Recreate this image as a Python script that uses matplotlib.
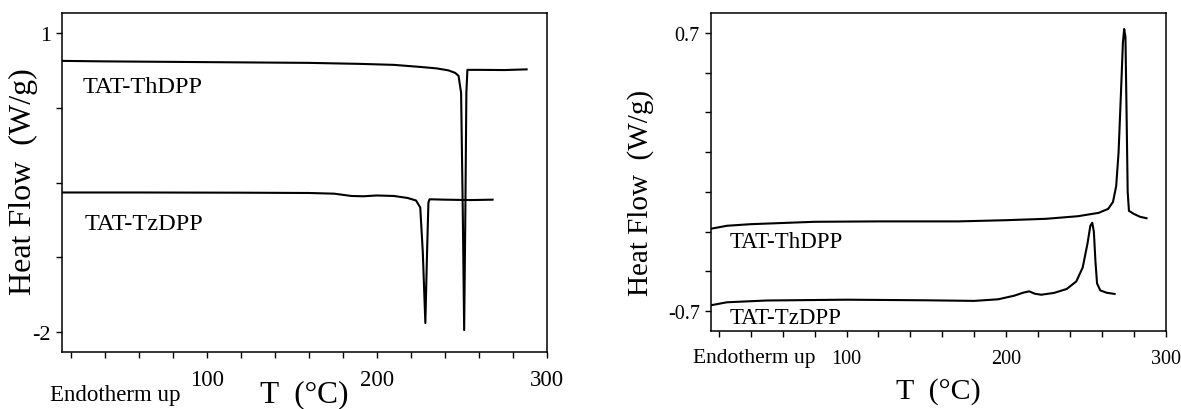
import matplotlib
matplotlib.use('Agg')
import matplotlib.pyplot as plt
from matplotlib.ticker import FixedLocator, FuncFormatter

plt.rcParams['font.family'] = ['Liberation Serif', 'DejaVu Serif']

# DSC heating scans (left panel), Heat Flow in W/g vs T in deg C
heat_th_T = [15, 40, 80, 120, 160, 190, 210, 225, 235, 242, 246, 248, 249.5,
             250.5, 251.3, 252.0, 252.6, 253.2, 260, 275, 288]
heat_th_q = [0.72, 0.715, 0.71, 0.705, 0.70, 0.69, 0.68, 0.66, 0.645, 0.625,
             0.60, 0.57, 0.40, -0.8, -1.98, -0.8, 0.40, 0.63, 0.63, 0.628, 0.635]

heat_tz_T = [15, 60, 120, 160, 175, 185, 192, 200, 210, 218, 223, 225.5, 227,
             228.5, 229.5, 230.3, 231, 240, 255, 268]
heat_tz_q = [-0.60, -0.60, -0.602, -0.605, -0.612, -0.635, -0.638, -0.63, -0.635,
             -0.655, -0.68, -0.75, -1.2, -1.91, -1.2, -0.70, -0.668, -0.672,
             -0.676, -0.672]

# DSC cooling scans (right panel)
cool_th_T = [15, 25, 40, 80, 120, 170, 200, 225, 245, 258, 264, 267, 269, 270.5,
             272, 273.2, 274, 274.8, 275.5, 276.2, 277, 280, 284, 288]
cool_th_q = [-0.285, -0.27, -0.262, -0.25, -0.248, -0.248, -0.242, -0.235, -0.222,
             -0.205, -0.185, -0.15, -0.07, 0.10, 0.40, 0.65, 0.72, 0.68, 0.30,
             -0.10, -0.195, -0.21, -0.225, -0.232]

cool_tz_T = [15, 25, 50, 100, 150, 180, 195, 205, 211, 214.5, 218, 222, 230, 238,
             244, 248, 251, 252.8, 254, 255, 256, 257, 259, 263, 268]
cool_tz_q = [-0.67, -0.655, -0.646, -0.642, -0.645, -0.648, -0.64, -0.622, -0.606,
             -0.600, -0.612, -0.617, -0.608, -0.588, -0.55, -0.48, -0.36, -0.27,
             -0.255, -0.30, -0.45, -0.56, -0.595, -0.607, -0.613]

x_ticks = list(range(20, 301, 20))
x_labels = [100, 200, 300]

fig = plt.figure(figsize=(11.81, 4.10), dpi=100)
ax1 = fig.add_axes([0.0525, 0.139, 0.4107, 0.8268])
ax2 = fig.add_axes([0.602, 0.190, 0.385, 0.7756])


def style_axis(ax, yticks, ylabels, xsize, ysize, xpad):
    ax.set_xlim(15, 300)
    ax.xaxis.set_major_locator(FixedLocator(x_ticks))
    ax.xaxis.set_major_formatter(FuncFormatter(
        lambda v, p: '%d' % v if int(round(v)) in x_labels else ''))
    ax.yaxis.set_major_locator(FixedLocator(yticks))
    ax.yaxis.set_major_formatter(FuncFormatter(
        lambda v, p: ylabels.get(round(v, 2), '')))
    ax.tick_params(direction='out', length=4, width=1.0, top=False, right=False)
    ax.tick_params(axis='x', labelsize=xsize, pad=xpad)
    ax.tick_params(axis='y', labelsize=ysize, pad=4)
    for s in ax.spines.values():
        s.set_linewidth(1.1)


# Left panel
ax1.plot(heat_th_T, heat_th_q, color='black', lw=1.5)
ax1.plot(heat_tz_T, heat_tz_q, color='black', lw=1.5)
ax1.set_ylim(-2.2, 1.2)
style_axis(ax1, [1.0, 0.25, -0.5, -1.25, -2.0], {1.0: '1', -2.0: '-2'}, 16.5, 16, 8)
ax1.text(0.043, 0.782, 'TAT-ThDPP', transform=ax1.transAxes, fontsize=17.5, va='center')
ax1.text(0.047, 0.378, 'TAT-TzDPP', transform=ax1.transAxes, fontsize=17.5, va='center')
ax1.text(-0.080, 0.506, 'Heat Flow  (W/g)', transform=ax1.transAxes, fontsize=23,
         rotation=90, ha='center', va='center')
ax1.text(0.5, -0.122, 'T  (\u00b0C)', transform=ax1.transAxes, fontsize=22.5,
         ha='center', va='center')
ax1.text(0.109, -0.125, 'Endotherm up', transform=ax1.transAxes, fontsize=16.5,
         ha='center', va='center')

# Right panel
ax2.plot(cool_th_T, cool_th_q, color='black', lw=1.5)
ax2.plot(cool_tz_T, cool_tz_q, color='black', lw=1.5)
ax2.set_ylim(-0.8, 0.8)
style_axis(ax2, [0.7, 0.5, 0.3, 0.1, -0.1, -0.3, -0.5, -0.7],
           {0.7: '0.7', -0.7: '-0.7'}, 14.5, 14.5, 9)
ax2.text(0.042, 0.283, 'TAT-ThDPP', transform=ax2.transAxes, fontsize=16.5, va='center')
ax2.text(0.042, 0.044, 'TAT-TzDPP', transform=ax2.transAxes, fontsize=16.5, va='center')
ax2.text(-0.154, 0.439, 'Heat Flow  (W/g)', transform=ax2.transAxes, fontsize=21,
         rotation=90, ha='center', va='center')
ax2.text(0.5, -0.188, 'T  (\u00b0C)', transform=ax2.transAxes, fontsize=21.5,
         ha='center', va='center')
ax2.text(0.096, -0.082, 'Endotherm up', transform=ax2.transAxes, fontsize=15.5,
         ha='center', va='center')

fig.savefig('out.png', dpi=100)
